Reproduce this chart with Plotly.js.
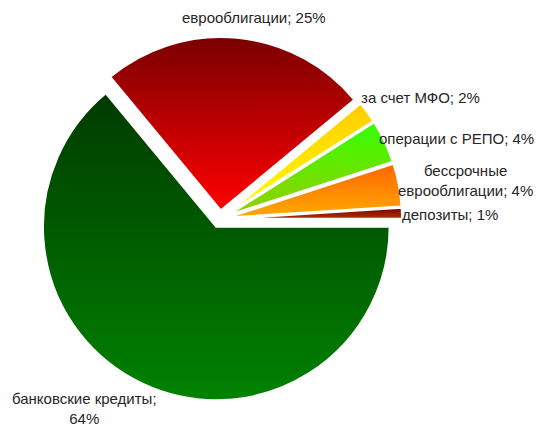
<!DOCTYPE html>
<html>
<head>
<meta charset="utf-8">
<script src="https://cdn.plot.ly/plotly-3.0.1.min.js"></script>
<style>html,body{margin:0;padding:0;background:#fff;}#chart{width:536px;height:426px;}</style>
</head>
<body>
<div id="chart"></div>
<script>
// Data
const labels = ["банковские кредиты", "еврооблигации", "за счет МФО", "операции с РЕПО", "бессрочные еврооблигации", "депозиты"];
const values = [64, 25, 2, 4, 4, 1];
const labelTexts = ["банковские кредиты;<br>64%", "еврооблигации; 25%", "за счет МФО; 2%", "операции с РЕПО; 4%", "бессрочные<br>еврооблигации; 4%", "депозиты; 1%"];

// Styles
const baseColors = ["#006000", "#c00000", "#ffe000", "#66dd00", "#ff8800", "#a01800"];
const gradStops = [
  ["#003a00", "#008200"],
  ["#7a0000", "#ff0000"],
  ["#ffcc00", "#ffff00"],
  ["#33ff00", "#99cc00"],
  ["#ff6600", "#ffaa00"],
  ["#7a0000", "#b03000"]
];
const labelPos = [[84, 408], [254, 18], [420, 97], [456, 139], [465, 180], [450, 215]];

const W = 536, H = 426;
const cx = 220, cy = 219, box = 364;
const trace = {
  type: "pie",
  labels: labels,
  values: values,
  sort: false,
  direction: "clockwise",
  rotation: 90,
  pull: values.map(() => 0.05),
  textinfo: "none",
  hoverinfo: "label+percent",
  marker: { colors: baseColors, line: { color: "#ffffff", width: 2 } },
  domain: { x: [(cx - box / 2) / W, (cx + box / 2) / W], y: [(H - cy - box / 2) / H, (H - cy + box / 2) / H] },
  showlegend: false
};

const annotations = labelTexts.map((t, i) => ({
  text: t,
  x: labelPos[i][0] / W,
  y: 1 - labelPos[i][1] / H,
  xref: "paper", yref: "paper",
  xanchor: "center", yanchor: "middle",
  showarrow: false,
  align: "center",
  font: { family: "Liberation Sans, Arial, sans-serif", size: 15, color: "#262626" }
}));

const layout = {
  width: W, height: H,
  margin: { l: 0, r: 0, t: 0, b: 0 },
  paper_bgcolor: "#ffffff",
  annotations: annotations,
  showlegend: false
};

Plotly.newPlot("chart", [trace], layout, { displayModeBar: false, staticPlot: true }).then(gd => {
  const svg = gd.querySelector("svg.main-svg");
  const ns = "http://www.w3.org/2000/svg";
  let defs = svg.querySelector("defs");
  if (!defs) { defs = document.createElementNS(ns, "defs"); svg.insertBefore(defs, svg.firstChild); }
  gradStops.forEach((s, i) => {
    const g = document.createElementNS(ns, "linearGradient");
    g.setAttribute("id", "pieGrad" + i);
    g.setAttribute("x1", "0"); g.setAttribute("y1", "0");
    g.setAttribute("x2", "0"); g.setAttribute("y2", "1");
    [[0, s[0]], [1, s[1]]].forEach(([o, c]) => {
      const st = document.createElementNS(ns, "stop");
      st.setAttribute("offset", String(o));
      st.setAttribute("stop-color", c);
      g.appendChild(st);
    });
    defs.appendChild(g);
  });
  const paths = gd.querySelectorAll("g.slice path.surface");
  paths.forEach((p, i) => {
    const idx = p.__data__ && p.__data__.i !== undefined ? p.__data__.i : i;
    p.style.fill = "url(#pieGrad" + idx + ")";
  });
});
</script>
</body>
</html>
